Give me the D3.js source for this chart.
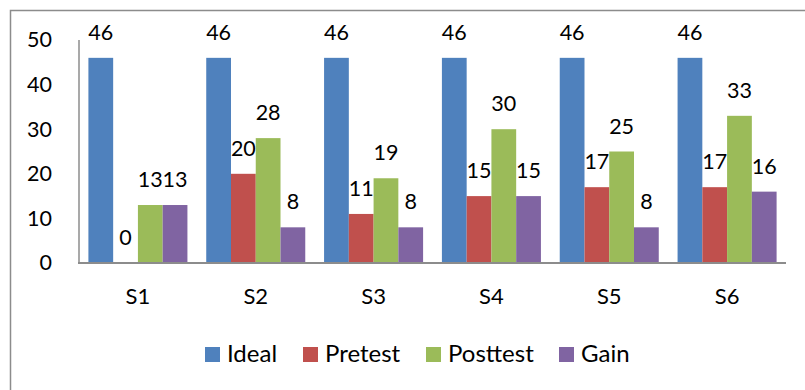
<!DOCTYPE html>
<html><head><meta charset="utf-8">
<script src="https://cdn.jsdelivr.net/npm/d3@7"></script>
<style>body{margin:0;background:#fff}svg{display:block}text{font-family:Lato,"Open Sans",sans-serif;fill:#000}</style>
</head><body><svg id="c" width="805" height="390"></svg>
<script>
const categories = ["S1","S2","S3","S4","S5","S6"];
const seriesNames = ["Ideal","Pretest","Posttest","Gain"];
const ideal    = [46,46,46,46,46,46];
const pretest  = [0,20,11,15,17,17];
const posttest = [13,28,19,30,25,33];
const gain     = [13,8,8,15,8,16];
const yTicks = [0,10,20,30,40,50];
const colors = ["#4F81BD","#C0504D","#9BBB59","#8064A2"];

const values = [ideal, pretest, posttest, gain];
const svg = d3.select("#c");

// outer frame
svg.append("rect").attr("x",10.5).attr("y",10.5).attr("width",820).attr("height",400)
  .attr("fill","none").attr("stroke","#8c8c8c").attr("stroke-width",1.5);

const y = d3.scaleLinear().domain([0,50]).range([263,40]);
const x0 = d3.scaleBand().domain(categories).range([79,786]).padding(0);
const x1 = d3.scaleBand().domain(seriesNames).range([0,x0.bandwidth()]).paddingInner(0).paddingOuter(0.38);
const color = d3.scaleOrdinal().domain(seriesNames).range(colors);

// y axis labels
const yAxis = d3.axisLeft(y).tickValues(yTicks).tickSize(0).tickPadding(27);
const gy = svg.append("g").attr("transform","translate(79,0)").call(yAxis);
gy.select(".domain").remove();
gy.selectAll("text").style("font-size","21.5px").style("font-family","Lato,'Open Sans',sans-serif").attr("fill","#000");

// bars
const data = [];
categories.forEach((c,i)=>seriesNames.forEach((s,j)=>data.push({c,s,v:values[j][i]})));
svg.append("g").selectAll("rect").data(data).join("rect")
  .attr("x",d=>x0(d.c)+x1(d.s))
  .attr("y",d=>y(d.v))
  .attr("width",x1.bandwidth())
  .attr("height",d=>y(0)-y(d.v))
  .attr("fill",d=>color(d.s));

// value labels
svg.append("g").selectAll("text").data(data).join("text")
  .attr("x",d=>x0(d.c)+x1(d.s)+x1.bandwidth()/2)
  .attr("y",d=>y(d.v)-18)
  .attr("text-anchor","middle")
  .style("font-size","21.5px")
  .text(d=>d.v);

// axis lines
svg.append("line").attr("x1",79).attr("x2",79).attr("y1",y(50)).attr("y2",y(0))
  .attr("stroke","#8c8c8c").attr("stroke-width",1.5);
svg.append("line").attr("x1",78).attr("x2",786).attr("y1",y(0)).attr("y2",y(0))
  .attr("stroke","#8c8c8c").attr("stroke-width",2);

// x labels
const xAxis = d3.axisBottom(x0).tickSize(0).tickPadding(25);
const gx = svg.append("g").attr("transform",`translate(0,${y(0)})`).call(xAxis);
gx.select(".domain").remove();
gx.selectAll("text").style("font-size","22px").style("font-family","Lato,'Open Sans',sans-serif").attr("fill","#000");

// legend
const legendX = [205,303,426,559];
const lg = svg.append("g").selectAll("g").data(seriesNames).join("g")
  .attr("transform",(d,i)=>`translate(${legendX[i]},347)`);
lg.append("rect").attr("width",15).attr("height",15).attr("fill",d=>color(d));
lg.append("text").attr("x",22).attr("y",15).style("font-size","24px").text(d=>d);
</script></body></html>
